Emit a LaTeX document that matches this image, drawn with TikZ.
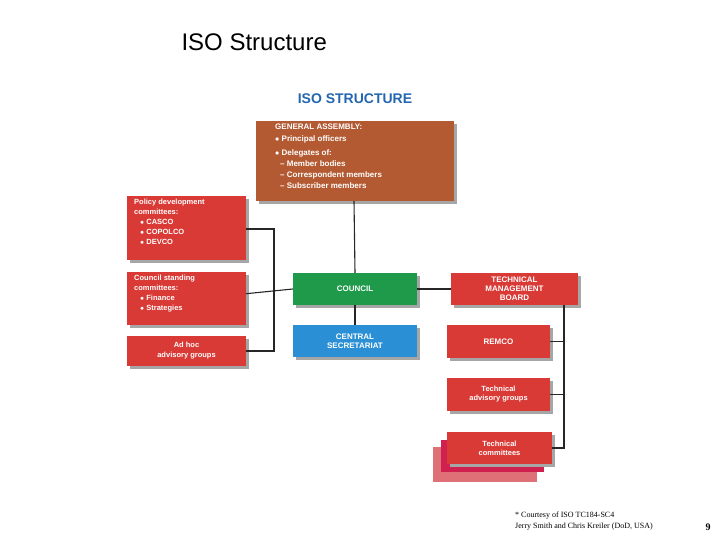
\documentclass[tikz,border=0pt]{standalone}
\usepackage{fontspec}
\setmainfont{Liberation Sans}
\newfontfamily\timesf{Liberation Serif}
\definecolor{rd}{HTML}{D93A36}
\definecolor{br}{HTML}{B35A32}
\definecolor{gr}{HTML}{1E9A4A}
\definecolor{bl}{HTML}{2A8FD4}
\definecolor{tb}{HTML}{2366B0}
\definecolor{cr}{HTML}{D02050}
\definecolor{pk}{HTML}{E07078}
\begin{document}
\begin{tikzpicture}[x=1pt,y=-1pt,
  bx/.style={fill=#1,draw=none,inner sep=0pt,text=white,font=\fontsize{8}{9}\selectfont\bfseries,align=center},
  sh/.style={fill=black!35},
  ln/.style={line width=1.1pt,black!85}]
\useasboundingbox (0,0) rectangle (720,540);
\node[anchor=west,font=\fontsize{24}{28}\selectfont] (title) at (178,42) {ISO Structure};
\node[font=\fontsize{14}{16}\selectfont\bfseries,text=tb] (sub) at (355,99) {ISO STRUCTURE};
% shadows
\foreach \a/\b/\c/\d in {256/121/454/201,127/196/246/260,127/272/246/325,127/336/246/366,293/273/417/305,293/325/417/357,451/273/578/305,447/325/550/358,447/378/550/411}
  \fill[sh] (\a+3,\b+3) rectangle (\c+3,\d+3);
\fill[pk] (433,447) rectangle (537,482);
\fill[cr] (441,440) rectangle (544,472);
\fill[sh] (450,435) rectangle (555,467);
% boxes
\fill[br] (256,121) rectangle (454,201);
\node[anchor=north west,text=white,font=\fontsize{8}{11}\selectfont\bfseries,align=left,inner sep=0pt] (ga) at (275,124)
 {GENERAL ASSEMBLY:\\[1pt] $\bullet$ Principal officers\\[3pt] $\bullet$ Delegates of:\\ \hspace{5pt}-- Member bodies\\ \hspace{5pt}-- Correspondent members\\ \hspace{5pt}-- Subscriber members};
\coordinate (gab) at (354,201);
\fill[rd] (127,196) rectangle (246,260);
\node[anchor=north west,text=white,font=\fontsize{7.5}{10}\selectfont\bfseries,align=left,inner sep=0pt] (pd) at (134,199)
 {Policy development\\committees:\\ \hspace{6pt}$\bullet$ CASCO\\ \hspace{6pt}$\bullet$ COPOLCO\\ \hspace{6pt}$\bullet$ DEVCO};
\fill[rd] (127,272) rectangle (246,325);
\node[anchor=north west,text=white,font=\fontsize{7.5}{10}\selectfont\bfseries,align=left,inner sep=0pt] (cs) at (134,275)
 {Council standing\\committees:\\ \hspace{6pt}$\bullet$ Finance\\ \hspace{6pt}$\bullet$ Strategies};
\node[bx=rd,minimum width=119pt,minimum height=30pt,font=\fontsize{7.5}{10}\selectfont\bfseries] (ah) at (186.5,351) {Ad hoc\\advisory groups};
\node[bx=gr,minimum width=124pt,minimum height=32pt] (co) at (355,289) {COUNCIL};
\node[bx=bl,minimum width=124pt,minimum height=32pt] (cse) at (355,341) {CENTRAL\\SECRETARIAT};
\node[bx=rd,minimum width=127pt,minimum height=32pt] (tmb) at (514.5,289) {TECHNICAL\\MANAGEMENT\\BOARD};
\node[bx=rd,minimum width=103pt,minimum height=33pt] (re) at (498.5,341.5) {REMCO};
\node[bx=rd,minimum width=103pt,minimum height=33pt,font=\fontsize{7.5}{9}\selectfont\bfseries] (tag) at (498.5,394.5) {Technical\\advisory groups};
\node[bx=rd,minimum width=105pt,minimum height=32pt,font=\fontsize{7.5}{9}\selectfont\bfseries] (tc) at (499.5,448) {Technical\\committees};
% connectors
\draw[ln] (gab) -- (co.north);
\draw[ln] (co) -- (cse);
\draw[ln] (co) -- (tmb);
\coordinate (lb1) at (274,229);
\coordinate (lb2) at (274,351);
\draw[ln] (246,229) -- (lb1) -- (lb2) -- (ah.east);
\draw[ln] (cs.east -| 246,289) -- (co.west);
\coordinate (rb1) at (564,305);
\coordinate (rb2) at (564,448);
\draw[ln] (rb1) -- (rb2) -- (tc.east);
\draw[ln] (re.east) -- (564,341.5);
\draw[ln] (tag.east) -- (564,394.5);
\node[anchor=north west,font=\timesf\fontsize{8}{11}\selectfont,align=left,inner sep=0pt] (fn) at (515,512) {* Courtesy of ISO TC184-SC4\\Jerry Smith and Chris Kreiler (DoD, USA)};
\node[font=\timesf\fontsize{10}{12}\selectfont\bfseries] (pg) at (708,527) {9};
\end{tikzpicture}
\end{document}
